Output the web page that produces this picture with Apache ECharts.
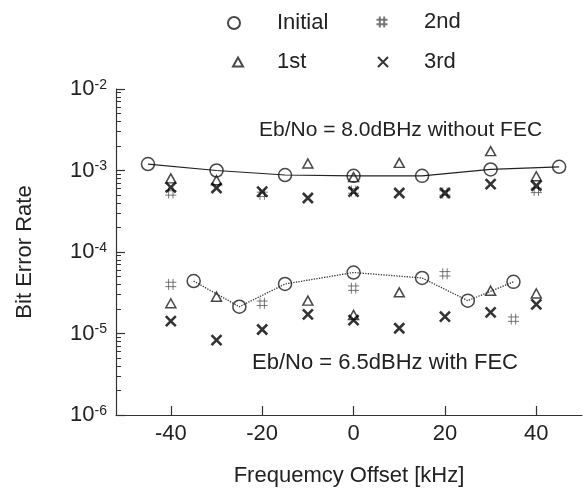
<!DOCTYPE html>
<html>
<head>
<meta charset="utf-8">
<script src="https://cdn.jsdelivr.net/npm/echarts@6/dist/echarts.min.js"></script>
<style>
html,body{margin:0;padding:0;background:#fff;}
#c{width:586px;height:489px;}
</style>
</head>
<body>
<div id="c"></div>
<script>
// ---- data ----
const xTickValues = [-40, -20, 0, 20, 40];
const yDecades = [-6, -5, -4, -3, -2];

// Initial (circles), Eb/No = 8.0 dBHz without FEC
const initTopX = [-45, -30, -15, 0, 15, 30, 45];
const initTopY = [1.2e-3, 1.0e-3, 8.8e-4, 8.6e-4, 8.6e-4, 1.03e-3, 1.11e-3];
// Initial (circles), Eb/No = 6.5 dBHz with FEC
const initBotX = [-35, -25, -15, 0, 15, 25, 35];
const initBotY = [4.4e-5, 2.13e-5, 4.05e-5, 5.6e-5, 4.8e-5, 2.53e-5, 4.3e-5];

// 1st (triangles)
const firstX = [-40, -30, -10, 0, 10, 30, 40, -40, -30, -10, 0, 10, 30, 40];
const firstY = [8.0e-4, 7.6e-4, 1.22e-3, 8.3e-4, 1.24e-3, 1.73e-3, 8.5e-4,
                2.35e-5, 2.83e-5, 2.53e-5, 1.69e-5, 3.2e-5, 3.35e-5, 3.1e-5];

// 2nd (hash)
const secondX = [-40, -20, 0, 20, 40, -40, -20, 0, 20, 35];
const secondY = [5.3e-4, 5.1e-4, 5.6e-4, 5.3e-4, 5.7e-4,
                 4.0e-5, 2.35e-5, 3.6e-5, 5.4e-5, 1.5e-5];

// 3rd (crosses)
const thirdX = [-40, -30, -20, -10, 0, 10, 20, 30, 40, -40, -30, -20, -10, 0, 10, 20, 30, 40];
const thirdY = [6.2e-4, 6.1e-4, 5.5e-4, 4.6e-4, 5.5e-4, 5.3e-4, 5.3e-4, 6.8e-4, 6.5e-4,
                1.42e-5, 8.3e-6, 1.12e-5, 1.72e-5, 1.46e-5, 1.16e-5, 1.61e-5, 1.82e-5, 2.28e-5];

// ---- chart ----
const zip = (xs, ys) => xs.map((x, i) => [x, ys[i]]);
const FONT = '"Liberation Sans", Arial, Helvetica, sans-serif';
const INK = '#222';
const minorTicks = [];
for (let e = -6; e < -2; e++) {
  for (let m = 2; m <= 9; m++) minorTicks.push(e + Math.log10(m));
}
const HASH = 'path://M3,0 L3,10 M7,0 L7,10 M0,3 L10,3 M0,7 L10,7';
const CROSS = 'path://M0,0 L10,10 M10,0 L0,10';

function legendBox(name, iconCenterX, centerY, textStart, w, h) {
  const left = iconCenterX - w / 2;
  const pad = textStart - (left + w + 5);
  return {
    data: [name], selectedMode: false, padding: 0,
    left: left, top: centerY - 12,
    itemWidth: w, itemHeight: h,
    textStyle: {fontSize: 22, color: INK, fontFamily: FONT, lineHeight: 24, padding: [0, 0, 0, pad]}
  };
}

const chart = echarts.init(document.getElementById('c'), null, {renderer: 'canvas'});
chart.setOption({
  animation: false,
  backgroundColor: '#fff',
  textStyle: {fontFamily: FONT},
  grid: {left: 116, right: 4, top: 89, bottom: 74, outerBoundsMode: 'none'},
  legend: [
    legendBox('Initial', 233, 23, 276, 12, 12),
    legendBox('2nd', 381, 22, 423, 11, 11),
    legendBox('1st', 237, 62, 276, 10, 9),
    legendBox('3rd', 382, 62, 423, 10, 10)
  ],
  xAxis: {
    type: 'value', min: -52, max: 50,
    name: 'Frequemcy Offset [kHz]', nameLocation: 'middle', nameGap: 50,
    nameTextStyle: {fontSize: 22, color: INK, fontFamily: FONT},
    axisLine: {onZero: false, lineStyle: {color: '#333', width: 1.2}},
    axisTick: {inside: true, length: 9, customValues: xTickValues, lineStyle: {color: '#333', width: 1.2}},
    axisLabel: {customValues: xTickValues, fontSize: 22, color: INK, margin: 8, fontFamily: FONT},
    splitLine: {show: false}
  },
  yAxis: [
    {
      type: 'log', logBase: 10, min: 1e-6, max: 1e-2, position: 'left',
      name: 'Bit Error Rate', nameLocation: 'middle', nameGap: 80, nameRotate: 90,
      nameTextStyle: {fontSize: 22, color: INK, fontFamily: FONT},
      axisLine: {show: true, onZero: false, lineStyle: {color: '#333', width: 1.2}},
      axisTick: {show: true, inside: true, length: 9, lineStyle: {color: '#333', width: 1.2}},
      axisLabel: {
        margin: 9,
        formatter: v => '{b|10}{s|' + Math.round(Math.log10(v)) + '}',
        rich: {
          b: {fontSize: 22, color: INK, fontFamily: FONT, lineHeight: 22, verticalAlign: 'bottom', padding: [4, 0, 0, 0]},
          s: {fontSize: 14, color: INK, fontFamily: FONT, lineHeight: 14, verticalAlign: 'top'}
        }
      },
      splitLine: {show: false}
    },
    {
      type: 'value', min: -6, max: -2, position: 'left',
      axisLine: {show: false, onZero: false}, axisLabel: {show: false}, splitLine: {show: false},
      axisTick: {show: true, inside: true, length: 5, customValues: minorTicks, lineStyle: {color: '#333', width: 1}}
    }
  ],
  graphic: [
    {type: 'text', left: 259, top: 120, style: {text: 'Eb/No = 8.0dBHz without FEC', font: '21px ' + FONT, fill: INK}},
    {type: 'text', left: 252, top: 352, style: {text: 'Eb/No = 6.5dBHz with FEC', font: '22px ' + FONT, fill: INK}}
  ],
  series: [
    {name: 'lineTop', type: 'line', data: zip(initTopX, initTopY), showSymbol: false, silent: true,
     lineStyle: {color: '#222', width: 1.2, type: 'solid'}, z: 1},
    {name: 'lineBot', type: 'line', data: zip(initBotX, initBotY), showSymbol: false, silent: true,
     lineStyle: {color: '#333', width: 1.3, type: 'dotted'}, z: 1},
    {name: 'Initial', type: 'scatter', data: zip(initTopX, initTopY), symbol: 'circle', symbolSize: 13,
     itemStyle: {color: 'rgba(255,255,255,0)', borderColor: '#1a1a1a', borderWidth: 1.5}, z: 3},
    {name: 'Initial', type: 'scatter', data: zip(initBotX, initBotY), symbol: 'circle', symbolSize: 13,
     itemStyle: {color: 'rgba(255,255,255,0)', borderColor: '#1a1a1a', borderWidth: 1.5}, z: 3},
    {name: '1st', type: 'scatter', data: zip(firstX, firstY), symbol: 'triangle', symbolSize: [10, 9],
     itemStyle: {color: 'rgba(255,255,255,0)', borderColor: '#1a1a1a', borderWidth: 1.5}, z: 3},
    {name: '2nd', type: 'scatter', data: zip(secondX, secondY), symbol: HASH, symbolSize: 11,
     itemStyle: {color: '#555', borderColor: '#555', borderWidth: 1}, z: 2},
    {name: '3rd', type: 'scatter', data: zip(thirdX, thirdY), symbol: CROSS, symbolSize: 10,
     itemStyle: {color: '#000', borderColor: '#000', borderWidth: 2.6}, z: 4}
  ]
});
</script>
</body>
</html>
